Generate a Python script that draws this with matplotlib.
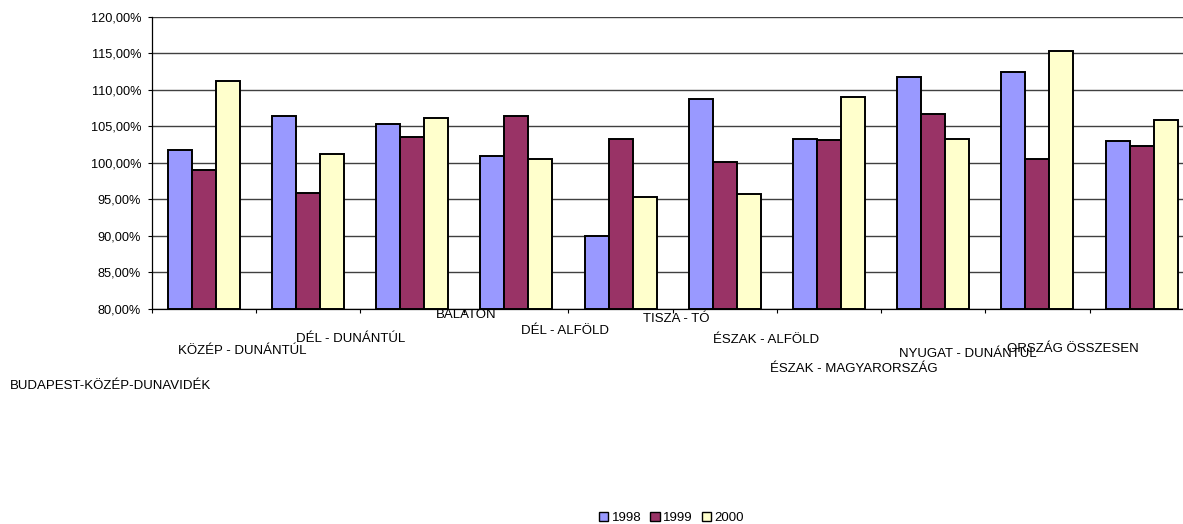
import matplotlib
matplotlib.use('Agg')
import matplotlib.pyplot as plt
import matplotlib.ticker as mticker
from matplotlib.patches import Patch
import numpy as np

plt.rcParams['font.family'] = ['Liberation Sans', 'DejaVu Sans']

regions = ['BUDAPEST-KÖZÉP-DUNAVIDÉK', 'KÖZÉP - DUNÁNTÚL', 'DÉL - DUNÁNTÚL', 'BALATON',
           'DÉL - ALFÖLD', 'TISZA - TÓ', 'ÉSZAK - ALFÖLD', 'ÉSZAK - MAGYARORSZÁG',
           'NYUGAT - DUNÁNTÚL', 'ORSZÁG ÖSSZESEN']
years = ['1998', '1999', '2000']
v1998 = [101.8, 106.4, 105.4, 101.0, 90.0, 108.8, 103.3, 111.8, 112.4, 103.0]
v1999 = [99.0, 95.9, 103.6, 106.4, 103.3, 100.2, 103.1, 106.7, 100.5, 102.3]
v2000 = [111.3, 101.3, 106.2, 100.5, 95.3, 95.7, 109.0, 103.3, 115.4, 105.9]
yticks = [80, 85, 90, 95, 100, 105, 110, 115, 120]

colors = ['#9999FF', '#993366', '#FFFFCC']

# staggered label placement (x shift from group centre, y pixel from top)
label_dx = [-0.90, -0.63, -0.59, -0.48, -0.53, -0.47, -0.60, -0.76, -0.67, -0.66]
label_ypx = [386, 351, 339, 315, 331, 319, 340, 369, 354, 349]

W, H = 1183, 524
fig = plt.figure(figsize=(W / 100, H / 100), dpi=100)
ax = fig.add_axes([151.7 / W, 1 - 309 / H, 1042 / W, 292 / H])

x = np.arange(len(regions))
bw = 0.23
for k, (vals, c) in enumerate(zip([v1998, v1999, v2000], colors)):
    ax.bar(x + (k - 1) * bw, np.array(vals) - 80, bottom=80, width=bw, color=c,
           edgecolor='black', linewidth=1.4, zorder=3, label=years[k])

ax.set_xlim(-0.5, len(regions) - 0.5)
ax.set_ylim(80, 120)
ax.set_yticks(yticks)
ax.yaxis.set_major_formatter(mticker.FuncFormatter(lambda v, p: f'{v:.2f}%'.replace('.', ',')))
ax.set_xticks(np.arange(len(regions) + 1) - 0.5)
ax.set_xticklabels([])
ax.tick_params(axis='y', length=3.2, width=0.8, pad=4.5, labelsize=9.2, direction='out')
ax.tick_params(axis='x', length=3, width=0.8, direction='out')
ax.grid(axis='y', color='#404040', linewidth=1.0, zorder=0)
for s in ['top', 'right']:
    ax.spines[s].set_visible(False)
for s in ['left', 'bottom']:
    ax.spines[s].set_color('black')
    ax.spines[s].set_linewidth(0.9)

trans = matplotlib.transforms.blended_transform_factory(ax.transData, fig.transFigure)
for i, name in enumerate(regions):
    ax.text(i + label_dx[i], 1 - label_ypx[i] / H, name, transform=trans,
            ha='center', va='center', fontsize=9.5, clip_on=False)

handles = [Patch(facecolor=c, edgecolor='black', linewidth=1.0) for c in colors]
fig.legend(handles, years, loc='center', bbox_to_anchor=(671.5 / W, 1 - 518 / H),
           ncol=3, frameon=False, fontsize=9.5, handlelength=0.7, handleheight=0.7,
           handletextpad=0.25, columnspacing=0.7, borderpad=0)

fig.savefig('out.png', dpi=100)
